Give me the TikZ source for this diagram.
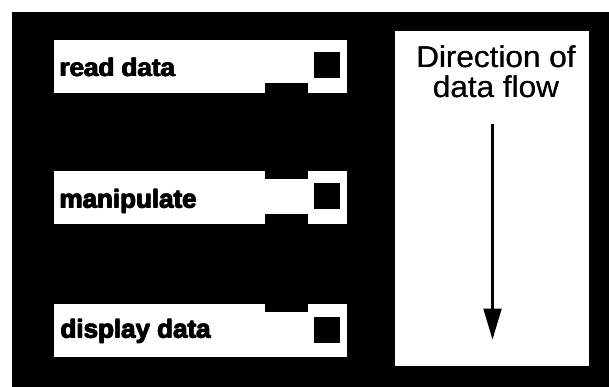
\documentclass[tikz,border=0pt]{standalone}
\usepackage{fontspec}
\setmainfont{Liberation Sans}
\newfontfamily\stagefont{Liberation Sans Bold}
\usetikzlibrary{arrows.meta}

% heavy, slightly widened stage captions (overprinted to thicken the strokes)
\newcommand{\heavyprint}[1]{\rlap{#1}\rlap{\raisebox{0.5pt}{#1}}\hspace{0.8pt}\rlap{\raisebox{0.5pt}{#1}}#1}
\newcommand{\stagetext}[1]{\scalebox{1.06}[1.04]{\stagefont\fontsize{24.5}{28}\selectfont\heavyprint{#1}}}
% panel caption, slightly widened
\newcommand{\flowtext}[1]{\scalebox{1.05}[1]{\fontsize{30}{30}\selectfont\rlap{#1}\hspace{0.3pt}#1}}

\begin{document}
\begin{tikzpicture}[x=1pt,y=-1pt,
  stage/.style={fill=white, draw=none, minimum width=293pt, minimum height=53pt,
                inner sep=0pt, anchor=north west},
  stagelabel/.style={anchor=base west, inner sep=0pt},
  port/.style={fill=black, minimum size=26pt, inner sep=0pt},
  notch/.style={fill=black, minimum width=43pt, minimum height=10pt, inner sep=0pt},
  panel/.style={fill=white, draw=none, minimum width=194pt, minimum height=335pt,
                inner sep=0pt, anchor=north west},
  flowarrow/.style={line width=2.2pt, -{Triangle[length=31pt,width=18pt]}}]

  % page and black backdrop
  \useasboundingbox (0,0) rectangle (609,387);
  \fill[white] (0,0) rectangle (609,387);
  \fill[black] (12,12) rectangle (609,387);

  % the three processing stages
  \node[stage] (read)  at (54,40)  {};
  \node[stage] (manip) at (54,171) {};
  \node[stage] (disp)  at (54,304) {};

  % stage names
  \node[stagelabel] (readlbl)  at (59,77)  {\stagetext{read data}};
  \node[stagelabel] (maniplbl) at (59,208) {\stagetext{manipulate}};
  \node[stagelabel] (displbl)  at (60,338) {\stagetext{display data}};

  % small square ports on the right of each stage
  \node[port] (readport)  at ([xshift=-20pt,yshift=2pt]read.east)  {};
  \node[port] (manipport) at ([xshift=-20pt,yshift=2pt]manip.east) {};
  \node[port] (dispport)  at ([xshift=-20pt,yshift=1pt]disp.east)  {};

  % notches where the stages plug into each other
  \node[notch, anchor=south] (readout) at ([xshift=86pt]read.south)  {};
  \node[notch, anchor=north, minimum height=8pt] (manipin) at ([xshift=86pt]manip.north) {};
  \node[notch, anchor=south] (manipout) at ([xshift=86pt]manip.south) {};
  \node[notch, anchor=north, minimum height=8pt] (dispin) at ([xshift=86pt]disp.north) {};

  % direction panel
  \node[panel] (flow) at (394.5,31) {};
  \node[anchor=base, inner sep=0pt] (flowtitle1) at (496,67.5) {\flowtext{Direction of}};
  \node[anchor=base, inner sep=0pt] (flowtitle2) at (496,97.5) {\flowtext{data flow}};
  \coordinate (flowtop) at (492.5,124);
  \coordinate (flowend) at (492.5,339.5);
  \draw[flowarrow] (flowtop) -- (flowend);
\end{tikzpicture}
\end{document}
